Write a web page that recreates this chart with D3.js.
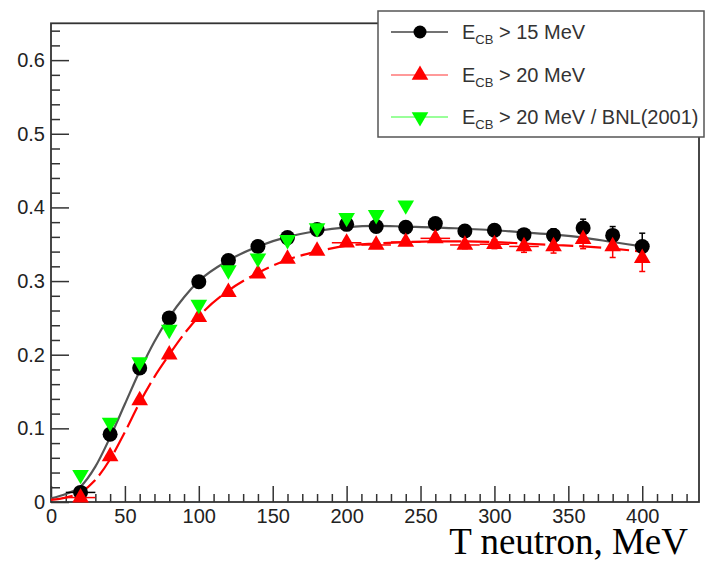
<!DOCTYPE html>
<html><head><meta charset="utf-8">
<script src="https://cdn.jsdelivr.net/npm/d3@7"></script>
<style>body{margin:0;background:#fff}svg{display:block}</style>
</head><body>
<script>
// ---- data ----
const tBins = [20,40,60,80,100,120,140,160,180,200,220,240,260,280,300,320,340,360,380,400];
const eff15 = [0.013,0.092,0.182,0.250,0.299,0.328,0.347,0.359,0.370,0.377,0.374,0.373,0.378,0.368,0.369,0.363,0.362,0.372,0.362,0.347];
const err15 = [0.004,0.004,0.004,0.004,0.004,0.004,0.004,0.004,0.004,0.004,0.004,0.004,0.005,0.005,0.006,0.008,0.009,0.012,0.012,0.018];
const xErr15 = [10,0,0,0,0,0,0,0,0,0,0,0,0,0,0,0,0,0,0,0];
const eff20 = [0.006,0.062,0.138,0.200,0.251,0.285,0.310,0.330,0.341,0.352,0.349,0.353,0.358,0.349,0.350,0.347,0.347,0.357,0.347,0.331];
const err20 = [0.004,0.004,0.004,0.004,0.004,0.004,0.004,0.004,0.004,0.004,0.004,0.004,0.005,0.005,0.006,0.008,0.009,0.013,0.015,0.018];
const xErr20 = [10,0,0,0,0,0,0,0,0,10,10,10,10,10,10,10,0,0,0,0];
const bnlT = [20,40,60,80,100,120,140,160,180,200,220,240];
const bnlEff = [0.037,0.108,0.190,0.234,0.268,0.315,0.331,0.356,0.372,0.386,0.390,0.403];
const fitT = [0,10,20,30,40,50,60,70,80,90,100,120,140,160,180,200,220,240,260,280,300,320,340,360,380,400];
const fit15 = [0.005,0.011,0.021,0.048,0.088,0.133,0.178,0.218,0.251,0.278,0.300,0.328,0.347,0.360,0.368,0.373,0.375,0.374,0.373,0.371,0.369,0.366,0.363,0.359,0.353,0.347];
const fit20 = [0.003,0.006,0.013,0.030,0.058,0.095,0.135,0.170,0.200,0.228,0.252,0.287,0.311,0.329,0.340,0.348,0.351,0.353,0.354,0.354,0.353,0.351,0.349,0.347,0.344,0.340];
const xTicks = [0,50,100,150,200,250,300,350,400];
const yTicks = [0,0.1,0.2,0.3,0.4,0.5,0.6];
const legendLabels = [["E","CB"," > 15 MeV"],["E","CB"," > 20 MeV"],["E","CB"," > 20 MeV / BNL(2001)"]];
const xTitle = "T neutron, MeV";

// ---- layout ----
const W = 707, H = 563;
const svg = d3.select("body").append("svg").attr("width", W).attr("height", H);
const x = d3.scaleLinear().domain([0, 438.4]).range([51, 699]);
const y = d3.scaleLinear().domain([0, 0.65]).range([502, 23.3]);
const sans = "'Liberation Sans', Arial, Helvetica, sans-serif";
const axisCol = "#333";

// frame
svg.append("rect").attr("x", x(0)).attr("y", y(0.65)).attr("width", x(438.4)-x(0)).attr("height", y(0)-y(0.65))
  .attr("fill", "none").attr("stroke", axisCol).attr("stroke-width", 1.8);

// x axis ticks (inside)
const xMinor = d3.range(0, 438, 10);
const gx = svg.append("g").attr("transform", `translate(0,${y(0)})`)
  .call(d3.axisBottom(x).tickValues(xMinor).tickSize(0).tickFormat(""));
gx.select(".domain").remove();
gx.selectAll(".tick line").attr("y2", d => (d % 50 === 0) ? -16 : -8).attr("stroke", axisCol).attr("stroke-width", 1.5);
const xLab = svg.append("g").attr("transform", `translate(0,${y(0)})`)
  .call(d3.axisBottom(x).tickValues(xTicks).tickSize(0).tickPadding(7).tickFormat(d3.format("d")));
xLab.select(".domain").remove();
xLab.selectAll("text").attr("font-family", sans).attr("font-size", 20).attr("fill", "#222");

// y axis ticks (inside)
const yMinor = d3.range(0, 0.651, 0.02);
const gy = svg.append("g").attr("transform", `translate(${x(0)},0)`)
  .call(d3.axisLeft(y).tickValues(yMinor).tickSize(0).tickFormat(""));
gy.select(".domain").remove();
gy.selectAll(".tick line").attr("x2", (d,i) => (i % 5 === 0) ? 18 : 9).attr("stroke", axisCol).attr("stroke-width", 1.5);
const yLab = svg.append("g").attr("transform", `translate(${x(0)},0)`)
  .call(d3.axisLeft(y).tickValues(yTicks).tickSize(0).tickPadding(6).tickFormat(d => d === 0 ? "0" : d3.format(".1f")(d)));
yLab.select(".domain").remove();
yLab.selectAll("text").attr("font-family", sans).attr("font-size", 20).attr("fill", "#222");

// fits
const line = d3.line().x(d => x(d[0])).y(d => y(d[1])).curve(d3.curveMonotoneX);
svg.append("path").datum(fitT.map((t,i) => [t, fit15[i]])).attr("d", line)
  .attr("fill", "none").attr("stroke", "#555").attr("stroke-width", 2.2);
svg.append("path").datum(fitT.map((t,i) => [t, fit20[i]])).attr("d", line)
  .attr("fill", "none").attr("stroke", "#f00").attr("stroke-width", 2.2).attr("stroke-dasharray", "22,6");

// error bars + markers
function errBars(vals, errs, xerrs, col) {
  const g = svg.append("g").attr("stroke", col).attr("stroke-width", 1.5);
  tBins.forEach((t, i) => {
    if (xerrs[i] > 0)
      g.append("line").attr("x1", x(t - xerrs[i])).attr("x2", x(t + xerrs[i])).attr("y1", y(vals[i])).attr("y2", y(vals[i]));
    g.append("line").attr("x1", x(t)).attr("x2", x(t)).attr("y1", y(vals[i] - errs[i])).attr("y2", y(vals[i] + errs[i]));
    [vals[i] - errs[i], vals[i] + errs[i]].forEach(v =>
      g.append("line").attr("x1", x(t) - 3).attr("x2", x(t) + 3).attr("y1", y(v)).attr("y2", y(v)));
  });
}
errBars(eff15, err15, xErr15, "#000");
errBars(eff20, err20, xErr20, "#f00");

const tri = d3.symbol().type(d3.symbolTriangle).size(120);
svg.append("g").selectAll("circle").data(tBins).join("circle")
  .attr("cx", t => x(t)).attr("cy", (t,i) => y(eff15[i])).attr("r", 7.5).attr("fill", "#000");
svg.append("g").selectAll("path").data(tBins).join("path")
  .attr("d", tri).attr("transform", (t,i) => `translate(${x(t)},${y(eff20[i])})`).attr("fill", "#f00");
svg.append("g").selectAll("path").data(bnlT).join("path")
  .attr("d", tri).attr("transform", (t,i) => `translate(${x(t)},${y(bnlEff[i])}) rotate(180)`).attr("fill", "#0f0");

// legend
const lg = svg.append("g");
lg.append("rect").attr("x", 378).attr("y", 11).attr("width", 326).attr("height", 126)
  .attr("fill", "#fff").attr("stroke", "#555").attr("stroke-width", 1.5);
const legendCols = [["#444", "#000"], ["#f77", "#f00"], ["#7f7", "#0f0"]];
const legendY = [32, 75, 117];
legendLabels.forEach((lab, i) => {
  const cy = legendY[i];
  lg.append("line").attr("x1", 391).attr("x2", 448).attr("y1", cy).attr("y2", cy).attr("stroke", legendCols[i][0]).attr("stroke-width", 1.5);
  if (i === 0) lg.append("circle").attr("cx", 420).attr("cy", cy).attr("r", 6.5).attr("fill", "#000");
  else lg.append("path").attr("d", tri).attr("transform", `translate(420,${cy}) ${i === 2 ? "rotate(180)" : ""}`).attr("fill", legendCols[i][1]);
  const tx = lg.append("text").attr("x", 462).attr("y", cy + 7).attr("font-family", sans).attr("font-size", 20).attr("fill", "#333");
  tx.append("tspan").text(lab[0]);
  tx.append("tspan").attr("font-size", 13).attr("dy", 5).text(lab[1]);
  tx.append("tspan").attr("dy", -5).text(lab[2]);
});

// x title
svg.append("text").attr("x", 688).attr("y", 554).attr("text-anchor", "end")
  .attr("font-family", "'Liberation Serif', 'Times New Roman', serif").attr("font-size", 37).attr("fill", "#000").text(xTitle);
</script>
</body></html>
